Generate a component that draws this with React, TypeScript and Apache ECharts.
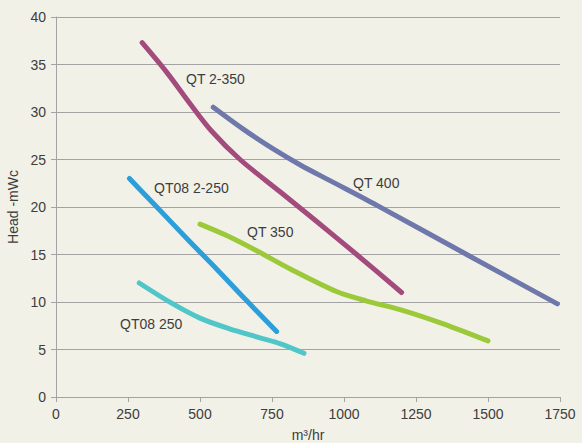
import React, { useEffect, useRef } from "react";
import * as echarts from "echarts";

const xTicks = { min: 0, max: 1750, interval: 250 };
const yTicks = { min: 0, max: 40, interval: 5 };
const xName = "m³/hr";
const yName = "Head -mWc";

const seriesNames = ["QT 2-350", "QT 400", "QT 350", "QT08 2-250", "QT08 250"];
const seriesColors = ["#a34b7c", "#6f78ab", "#9bc93a", "#2c9fdb", "#50c6c8"];

const qt2_350: number[][] = [[299, 37.3], [384, 34.2], [465, 30.9], [540, 28.0], [639, 25.0], [778, 21.6], [900, 18.6], [1044, 15.0], [1200, 11.0]];
const qt400: number[][] = [[546, 30.5], [650, 28.2], [750, 26.2], [850, 24.4], [950, 22.8], [1113, 20.2], [1426, 15.0], [1741, 9.8]];
const qt350: number[][] = [[500, 18.2], [600, 16.9], [697, 15.4], [812, 13.5], [974, 11.1], [1079, 10.1], [1206, 9.1], [1345, 7.7], [1500, 5.9]];
const qt08_2_250: number[][] = [[255, 23.0], [350, 20.0], [460, 16.5], [560, 13.4], [660, 10.2], [766, 6.9]];
const qt08_250: number[][] = [[289, 12.0], [400, 9.9], [500, 8.3], [600, 7.2], [700, 6.3], [780, 5.6], [861, 4.6]];

const seriesData = [qt2_350, qt400, qt350, qt08_2_250, qt08_250];

const labelTexts = ["QT 2-350", "QT 400", "QT 350", "QT08 2-250", "QT08 250"];
const labelPos = [[186, 79], [353, 183], [247, 232], [154, 188], [120, 324]];

const FONT = "Liberation Sans, Arial, Helvetica, sans-serif";
const TEXT_COLOR = "#3d3d3d";

export default function App() {
  const ref = useRef<HTMLDivElement>(null);
  useEffect(() => {
    if (!ref.current) return;
    const chart = echarts.init(ref.current, undefined, { renderer: "svg" });
    chart.setOption({
      animation: false,
      backgroundColor: "#f2f1e8",
      grid: { left: 56, right: 22, top: 17, bottom: 46, outerBoundsMode: "none", containLabel: false },
      xAxis: {
        type: "value",
        min: xTicks.min,
        max: xTicks.max,
        interval: xTicks.interval,
        name: xName,
        nameLocation: "middle",
        nameGap: 31,
        nameTextStyle: { color: TEXT_COLOR, fontSize: 14, fontFamily: FONT },
        axisLine: { show: true, lineStyle: { color: "#a3a3a3", width: 1 } },
        axisTick: { show: true, length: 5, lineStyle: { color: "#a3a3a3" } },
        axisLabel: { color: TEXT_COLOR, fontSize: 14, fontFamily: FONT, margin: 10, formatter: (v: number) => String(v) },
        splitLine: { show: false },
      },
      yAxis: {
        type: "value",
        min: yTicks.min,
        max: yTicks.max,
        interval: yTicks.interval,
        name: yName,
        nameLocation: "middle",
        nameGap: 35,
        nameTextStyle: { color: TEXT_COLOR, fontSize: 14, fontFamily: FONT },
        axisLine: { show: true, lineStyle: { color: "#a3a3a3", width: 1 } },
        axisTick: { show: true, length: 5, lineStyle: { color: "#a3a3a3" } },
        axisLabel: { color: TEXT_COLOR, fontSize: 14, fontFamily: FONT, margin: 10, formatter: (v: number) => String(v) },
        splitLine: { show: true, lineStyle: { color: "#a3a3a3", width: 1 } },
      },
      series: seriesData.map((d, i) => ({
        name: seriesNames[i],
        type: "line",
        data: d,
        smooth: 0.3,
        showSymbol: false,
        symbol: "none",
        lineStyle: { color: seriesColors[i], width: 5, cap: "round", join: "round" },
        itemStyle: { color: seriesColors[i] },
      })),
      graphic: labelTexts.map((t, i) => ({
        type: "text",
        x: labelPos[i][0],
        y: labelPos[i][1],
        style: {
          text: t,
          fill: TEXT_COLOR,
          font: `14px ${FONT}`,
          verticalAlign: "middle",
          align: "left",
        },
      })),
    });
    return () => chart.dispose();
  }, []);
  return (
    <div
      ref={ref}
      style={{ position: "fixed", left: 0, top: 0, width: 582, height: 443 }}
    />
  );
}
